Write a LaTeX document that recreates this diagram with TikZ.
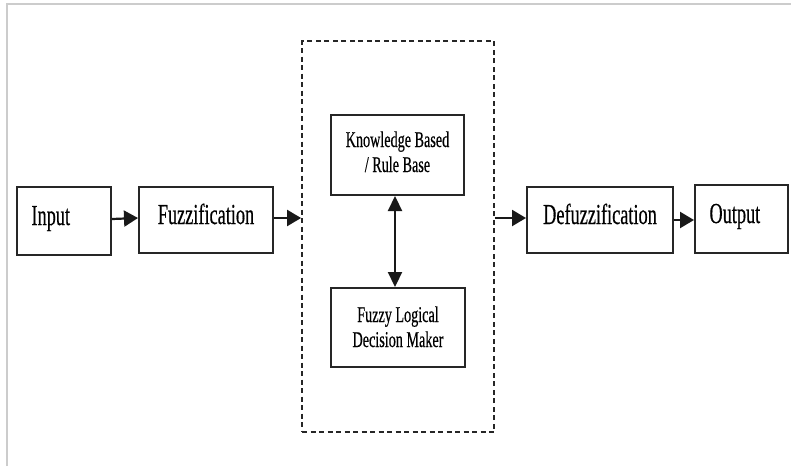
\documentclass[tikz,border=0pt]{standalone}
\usepackage{fontspec}
\usetikzlibrary{arrows.meta,calc}
\newfontfamily\blockfont[FakeStretch=0.63,FakeBold=0.4]{Liberation Serif}
\begin{document}
\begin{tikzpicture}[x=1pt,y=-1pt,
  block/.style={draw=black!85, line width=2pt, rectangle, inner sep=0pt,
    font=\blockfont\fontsize{29}{34}\selectfont, text height=16pt, text depth=8pt},
  leftblock/.style={block, align=left, inner xsep=14.5pt},
  subblock/.style={draw=black!85, line width=2pt, rectangle, inner sep=0pt, align=center,
    font=\blockfont\fontsize{22.5}{25}\selectfont},
  flow/.style={line width=2.2pt, draw=black!90, -{Triangle[length=14pt,width=16pt]}},
  both/.style={line width=2.2pt, draw=black!90, {Triangle[length=15pt,width=14pt]}-{Triangle[length=15pt,width=14pt]}}
]
\useasboundingbox (0,0) rectangle (791,466);
% faint page frame
\draw[black!20, line width=1.2pt] (7,466) -- (7,4) -- (791,4);

% processing stages
\node[leftblock, minimum width=94pt, minimum height=68pt, text width=65pt] (in) at (64,221) {Input};
\node[block, minimum width=134pt, minimum height=66pt] (fz) at (206,220) {Fuzzification};
\node[draw=black!85, line width=1.8pt, dash pattern=on 5pt off 3.5pt, rectangle,
      minimum width=192pt, minimum height=391pt] (inf) at (398,236.5) {};
\node[subblock, minimum width=133pt, minimum height=80pt, text height=38pt, text depth=4pt] (kb) at (397.5,155) {Knowledge Based\\/ Rule Base};
\node[subblock, minimum width=134pt, minimum height=79pt, text height=44pt, text depth=5pt] (fl) at (398,327.5) {Fuzzy Logical\\Decision Maker};
\node[block, minimum width=146pt, minimum height=66pt] (dfz) at (600,220) {Defuzzification};
\node[leftblock, minimum width=93pt, minimum height=68pt, text width=64pt] (out) at (741.5,219) {Output};

% connectors
\draw[flow] ($(in.east)+(0,-2)$) -- ($(fz.west)+(0,-2)$);
\draw[flow] ($(fz.east)+(0,-2)$) -- ($(fz.east -| inf.west)+(0,-2)$);
\draw[flow] ($(dfz.west -| inf.east)+(0,-2)$) -- ($(dfz.west)+(0,-2)$);
\draw[flow] (dfz.east) -- (dfz.east -| out.west);
\draw[both] ($(kb.south)+(-2.5,0)$) -- ($(fl.north)+(-3,0)$);
\end{tikzpicture}
\end{document}
